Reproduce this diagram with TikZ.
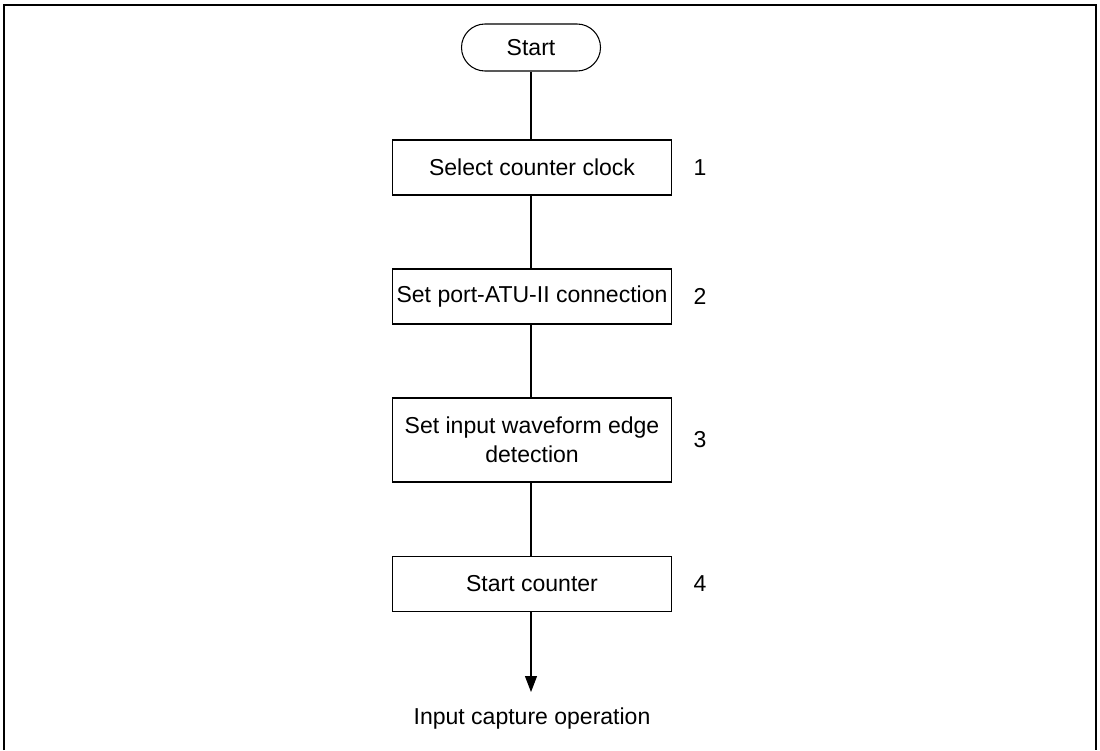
\documentclass[tikz,border=0pt]{standalone}
\usepackage{fontspec}
\setmainfont{Liberation Sans}
\usetikzlibrary{arrows.meta,positioning,shapes}

\begin{document}
\begin{tikzpicture}[
    x=0.2mm,y=-0.2mm,
    stp/.style  = {rectangle,draw=black,line width=0.6pt,align=center,
                   font=\fontsize{13.1}{16.5}\selectfont,inner xsep=0.4mm,
                   minimum width=5.58cm,minimum height=1.1cm},
    term/.style = {rectangle,rounded corners=0.47cm,draw=black,line width=0.6pt,
                   font=\fontsize{13.1}{16.5}\selectfont,
                   minimum width=2.78cm,minimum height=0.94cm},
    num/.style  = {font=\fontsize{13.1}{16.5}\selectfont},
    fl/.style   = {line width=0.6pt},
    fla/.style  = {-{Triangle[length=3.2mm,width=2.4mm]},line width=0.6pt},
  ]

  \useasboundingbox (0,0) rectangle (1100,750);
  \draw[line width=1.1pt] (4,750) -- (4,5) -- (1096,5) -- (1096,750);

  \node[term] (start) at (531,47.5) {Start};

  \node[stp]  (clk) at (532,167.5) {Select counter clock};
  \node[stp]  (prt) at (532,296.5) {Set port-ATU-II connection};
  \node[stp,minimum height=1.68cm] (edg) at (532,440) {Set input waveform edge\\detection};
  \node[stp]  (cnt) at (532,584) {Start counter};

  \node[num] (n1) at (700,167.5) {1};
  \node[num] (n2) at (700,296.5) {2};
  \node[num] (n3) at (700,440)   {3};
  \node[num] (n4) at (700,584)   {4};

  \coordinate (end) at (531,692);
  \node[num] (cap) at (532,719) {Input capture operation};

  \draw[fl] (start) -- (start |- clk.north);
  \draw[fl] (start |- clk.south) -- (start |- prt.north);
  \draw[fl] (start |- prt.south) -- (start |- edg.north);
  \draw[fl] (start |- edg.south) -- (start |- cnt.north);
  \draw[fla] (start |- cnt.south) -- (end);

\end{tikzpicture}
\end{document}
